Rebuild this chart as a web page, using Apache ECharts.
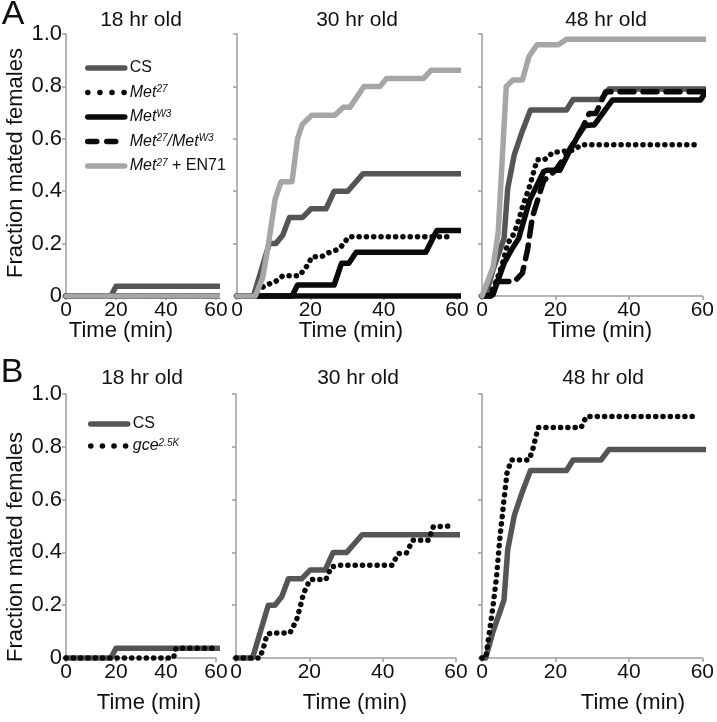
<!DOCTYPE html>
<html>
<head>
<meta charset="utf-8">
<script src="https://cdn.jsdelivr.net/npm/echarts@6/dist/echarts.min.js"></script>
<style>html,body{margin:0;padding:0;background:#fff}#c{width:717px;height:722px}</style>
</head>
<body>
<div id="c"></div>
<script>
// ---------- DATA (time in min, fraction mated) ----------
const xTickValues = [0, 20, 40, 60];
const yTickLabels = ['0', '0.2', '0.4', '0.6', '0.8', '1.0'];
const panelTitles = ['18 hr old', '30 hr old', '48 hr old'];

// CS (shared by A and B rows)
const cs18_t = [0, 18, 20, 61];
const cs18_v = [0, 0, 0.037, 0.037];
const cs30_t = [0, 4.5, 8.8, 10.6, 12.5, 14.3, 17.9, 20.2, 24.3, 26.5, 30.2, 34.4, 61];
const cs30_v = [0, 0, 0.2, 0.2, 0.233, 0.3, 0.3, 0.333, 0.333, 0.4, 0.4, 0.467, 0.467];
const cs48_t = [0, 1, 3, 5, 6, 7, 8.8, 11, 13.2, 23, 24.8, 32.4, 34.6, 61];
const cs48_v = [0, 0, 0.1, 0.18, 0.22, 0.41, 0.54, 0.63, 0.71, 0.71, 0.75, 0.75, 0.79, 0.79];

// never-mated series at 18 hr (and MetW3 at 30 hr)
const flat_t = [0, 61];
const flat_v = [0, 0];

// Met27
const met27_30_t = [0, 4, 6, 8, 10.5, 12.5, 17, 19, 20.5, 23, 25, 27, 28.5, 30.5, 59];
const met27_30_v = [0, 0, 0.025, 0.042, 0.055, 0.077, 0.077, 0.113, 0.15, 0.15, 0.165, 0.175, 0.19, 0.226, 0.226];
const met27_48_t = [0, 2, 4, 5.5, 7, 8.8, 10, 11, 12, 13, 14, 15, 17, 19.5, 21, 25, 27, 59.5];
const met27_48_v = [0, 0, 0.06, 0.12, 0.2, 0.24, 0.29, 0.34, 0.38, 0.42, 0.47, 0.52, 0.52, 0.55, 0.55, 0.557, 0.577, 0.577];

// MetW3
const metW3_48_t = [0, 3, 6, 8, 10, 13, 16.8, 17.7, 21.2, 24, 26, 28, 29.7, 30.6, 33, 35.5, 59.5, 61];
const metW3_48_v = [0, 0.005, 0.125, 0.176, 0.22, 0.366, 0.475, 0.48, 0.48, 0.557, 0.608, 0.65, 0.653, 0.653, 0.7, 0.748, 0.748, 0.78];

// Met27/MetW3
const trans30_t = [0, 15, 16.5, 26.5, 27.5, 28.5, 30.5, 32.5, 51.5, 54.5, 61];
const trans30_v = [0, 0, 0.042, 0.042, 0.083, 0.125, 0.125, 0.167, 0.167, 0.25, 0.25];
const trans48_t = [0, 2.5, 3.9, 8.8, 11, 12.4, 13.7, 15.9, 16.8, 20, 22, 24.8, 27.5, 29.2, 31, 33.7, 61];
const trans48_v = [0, 0, 0.055, 0.055, 0.087, 0.176, 0.3, 0.4, 0.44, 0.48, 0.52, 0.58, 0.646, 0.697, 0.697, 0.78, 0.78];

// Met27 + EN71
const en71_30_t = [0, 5, 7, 8.5, 10.4, 12, 15, 16.5, 17.8, 20.4, 26.7, 29, 30.8, 34.6, 39, 40.8, 50.8, 53, 61];
const en71_30_v = [0, 0, 0.07, 0.19, 0.37, 0.436, 0.436, 0.6, 0.655, 0.69, 0.69, 0.72, 0.72, 0.8, 0.8, 0.83, 0.83, 0.862, 0.862];
const en71_48_t = [0, 0.5, 3, 4.4, 6.6, 8.4, 11, 12.8, 15, 20.8, 23, 61];
const en71_48_v = [0, 0, 0.11, 0.24, 0.8, 0.824, 0.824, 0.914, 0.959, 0.959, 0.98, 0.98];

// gce2.5K
const gce18_t = [0, 43, 44, 60];
const gce18_v = [0, 0, 0.037, 0.037];
const gce30_t = [0, 6.5, 7.5, 8.5, 10, 14.7, 16.5, 17.5, 18.4, 20.2, 24.5, 26, 28, 42.5, 44.3, 46.5, 48.2, 52.5, 53.8, 58.4];
const gce30_v = [0, 0, 0.04, 0.09, 0.095, 0.095, 0.143, 0.193, 0.244, 0.297, 0.297, 0.345, 0.351, 0.351, 0.396, 0.398, 0.446, 0.446, 0.497, 0.5];
const gce48_t = [0, 1, 2, 3, 3.9, 4.8, 6, 6.8, 8, 12.8, 13.9, 15.3, 27, 28.4, 59];
const gce48_v = [0, 0, 0.095, 0.197, 0.3, 0.445, 0.6, 0.7, 0.75, 0.75, 0.794, 0.873, 0.873, 0.915, 0.915];

// ---------- STYLE / LAYOUT ----------
const FONT = "'Liberation Sans', Arial, sans-serif";
const AX = '#9d9d9d';
const W = 5.5;
const BLACK = '#0a0a0a';
const styles = {
  'CS': {color: '#555555', width: W, cap: 'round', join: 'round'},
  'Met27': {color: BLACK, width: W, type: [0.1, 7.2], cap: 'round', join: 'round'},
  'MetW3': {color: BLACK, width: W, cap: 'round', join: 'round'},
  'Met27/MetW3': {color: BLACK, width: W, type: [14, 9], cap: 'round', join: 'round'},
  'Met27/MetW3 solid': {color: BLACK, width: W, cap: 'round', join: 'round'},
  'Met27 + EN71': {color: '#a6a6a6', width: W, cap: 'round', join: 'round'},
  'gce2.5K': {color: BLACK, width: W, type: [0.1, 7.2], cap: 'round', join: 'round'}
};
const grids = [
  {left: 66, top: 34, width: 150, height: 262},
  {left: 237, top: 34, width: 220, height: 262},
  {left: 482, top: 34, width: 225, height: 262},
  {left: 66, top: 394, width: 150, height: 264},
  {left: 236, top: 394, width: 220, height: 264},
  {left: 482, top: 394, width: 225, height: 264}
];

function mk(name, gi, t, v, styleKey) {
  const ls = styles[styleKey || name];
  return {
    type: 'line', name: name, xAxisIndex: gi, yAxisIndex: gi,
    data: t.map((x, i) => [x, v[i]]),
    symbol: 'none', showSymbol: false, clip: false, silent: true, animation: false,
    color: ls.color, itemStyle: {color: ls.color},
    lineStyle: Object.assign({}, ls)
  };
}

const series = [
  // A 18 hr
  mk('CS', 0, cs18_t, cs18_v),
  mk('Met27', 0, flat_t, flat_v),
  mk('MetW3', 0, flat_t, flat_v),
  mk('Met27/MetW3', 0, flat_t, flat_v),
  mk('Met27 + EN71', 0, flat_t, flat_v),
  // A 30 hr
  mk('CS', 1, cs30_t, cs30_v),
  mk('Met27', 1, met27_30_t, met27_30_v),
  mk('MetW3', 1, flat_t, flat_v),
  mk('Met27/MetW3', 1, trans30_t, trans30_v, 'Met27/MetW3 solid'),
  mk('Met27 + EN71', 1, en71_30_t, en71_30_v),
  // A 48 hr
  mk('CS', 2, cs48_t, cs48_v),
  mk('Met27', 2, met27_48_t, met27_48_v),
  mk('MetW3', 2, metW3_48_t, metW3_48_v),
  mk('Met27/MetW3', 2, trans48_t, trans48_v),
  mk('Met27 + EN71', 2, en71_48_t, en71_48_v),
  // B
  mk('CS', 3, cs18_t, cs18_v),
  mk('gce2.5K', 3, gce18_t, gce18_v),
  mk('CS', 4, cs30_t, cs30_v),
  mk('gce2.5K', 4, gce30_t, gce30_v),
  mk('CS', 5, cs48_t, cs48_v),
  mk('gce2.5K', 5, gce48_t, gce48_v)
];

const xAxis = grids.map((g, i) => ({
  type: 'value', gridIndex: i, min: xTickValues[0], max: xTickValues[xTickValues.length - 1], interval: 20,
  axisLine: {show: true, onZero: false, lineStyle: {color: AX, width: 1.5}},
  axisTick: {show: true, length: 4, lineStyle: {color: AX, width: 1.5}},
  axisLabel: {fontSize: 21, color: '#111', fontFamily: FONT, margin: 4},
  splitLine: {show: false}
}));
const yAxis = grids.map((g, i) => ({
  type: 'value', gridIndex: i, min: 0, max: 1, interval: 0.2,
  axisLine: {show: true, lineStyle: {color: AX, width: 1.5}},
  axisTick: {show: true, length: 4, lineStyle: {color: AX, width: 1.5}},
  axisLabel: {show: i % 3 === 0, fontSize: 22, color: '#111', fontFamily: FONT, margin: 4,
    formatter: v => yTickLabels[Math.round(v / 0.2)]},
  splitLine: {show: false}
}));

const rich = {
  n: {fontSize: 16, fontFamily: FONT, color: '#111'},
  i: {fontSize: 16, fontFamily: FONT, fontStyle: 'italic', color: '#111'},
  s: {fontSize: 10, fontFamily: FONT, fontStyle: 'italic', color: '#111', verticalAlign: 'top', lineHeight: 11}
};
const legendFmt = {
  'CS': '{n|CS}',
  'Met27': '{i|Met}{s|27}',
  'MetW3': '{i|Met}{s|W3}',
  'Met27/MetW3': '{i|Met}{s|27}{i|/Met}{s|W3}',
  'Met27 + EN71': '{i|Met}{s|27}{n| + EN71}',
  'gce2.5K': '{i|gce}{s|2.5K}'
};
const HIDE_SYM = {color: 'rgba(0,0,0,0)', borderWidth: 0, opacity: 0};
function li(name, dash) {
  const ls = styles[name];
  const l = {color: ls.color, width: W, cap: 'round', type: dash || 'solid'};
  return {name: name, itemStyle: HIDE_SYM, lineStyle: l};
}
const legendBase = {
  orient: 'vertical', selectedMode: false, itemWidth: 37, itemHeight: 12,
  itemStyle: HIDE_SYM,
  formatter: n => legendFmt[n], textStyle: {fontSize: 16, fontFamily: FONT, color: '#111', rich: rich}
};
const legend = [
  Object.assign({}, legendBase, {
    left: 80, top: 55, itemGap: 8.5,
    data: [li('CS'), li('Met27', [0.1, 12]), li('MetW3'), li('Met27/MetW3', [9, 10]), li('Met27 + EN71')]
  }),
  Object.assign({}, legendBase, {
    left: 83, top: 411, itemGap: 6,
    data: [li('CS'), li('gce2.5K', [0.1, 11.5])]
  })
];

function txt(text, x, y, size, rot) {
  return {
    type: 'text', x: x, y: y, rotation: rot || 0, silent: true,
    style: {text: text, fontSize: size, fontFamily: FONT, fill: '#111',
      textAlign: 'center', align: 'center', textVerticalAlign: 'middle', verticalAlign: 'middle'}
  };
}
const graphic = [
  txt('A', 13, 15, 34), txt('B', 12, 373, 34),
  txt(panelTitles[0], 141, 20, 21), txt(panelTitles[1], 357, 20, 21), txt(panelTitles[2], 606, 20, 21),
  txt(panelTitles[0], 142, 378, 21), txt(panelTitles[1], 358, 378, 21), txt(panelTitles[2], 603, 378, 21),
  txt('Time (min)', 121, 331, 22), txt('Time (min)', 351, 331, 22), txt('Time (min)', 600, 331, 22),
  txt('Time (min)', 149, 703, 22), txt('Time (min)', 355, 703, 22), txt('Time (min)', 633, 703, 22),
  txt('Fraction mated females', 16, 163, 22, Math.PI / 2),
  txt('Fraction mated females', 16, 547, 22, Math.PI / 2)
];

const chart = echarts.init(document.getElementById('c'), null, {renderer: 'canvas'});
chart.setOption({
  animation: false, backgroundColor: '#fff',
  grid: grids, xAxis: xAxis, yAxis: yAxis, series: series, legend: legend, graphic: graphic
});
</script>
</body>
</html>
